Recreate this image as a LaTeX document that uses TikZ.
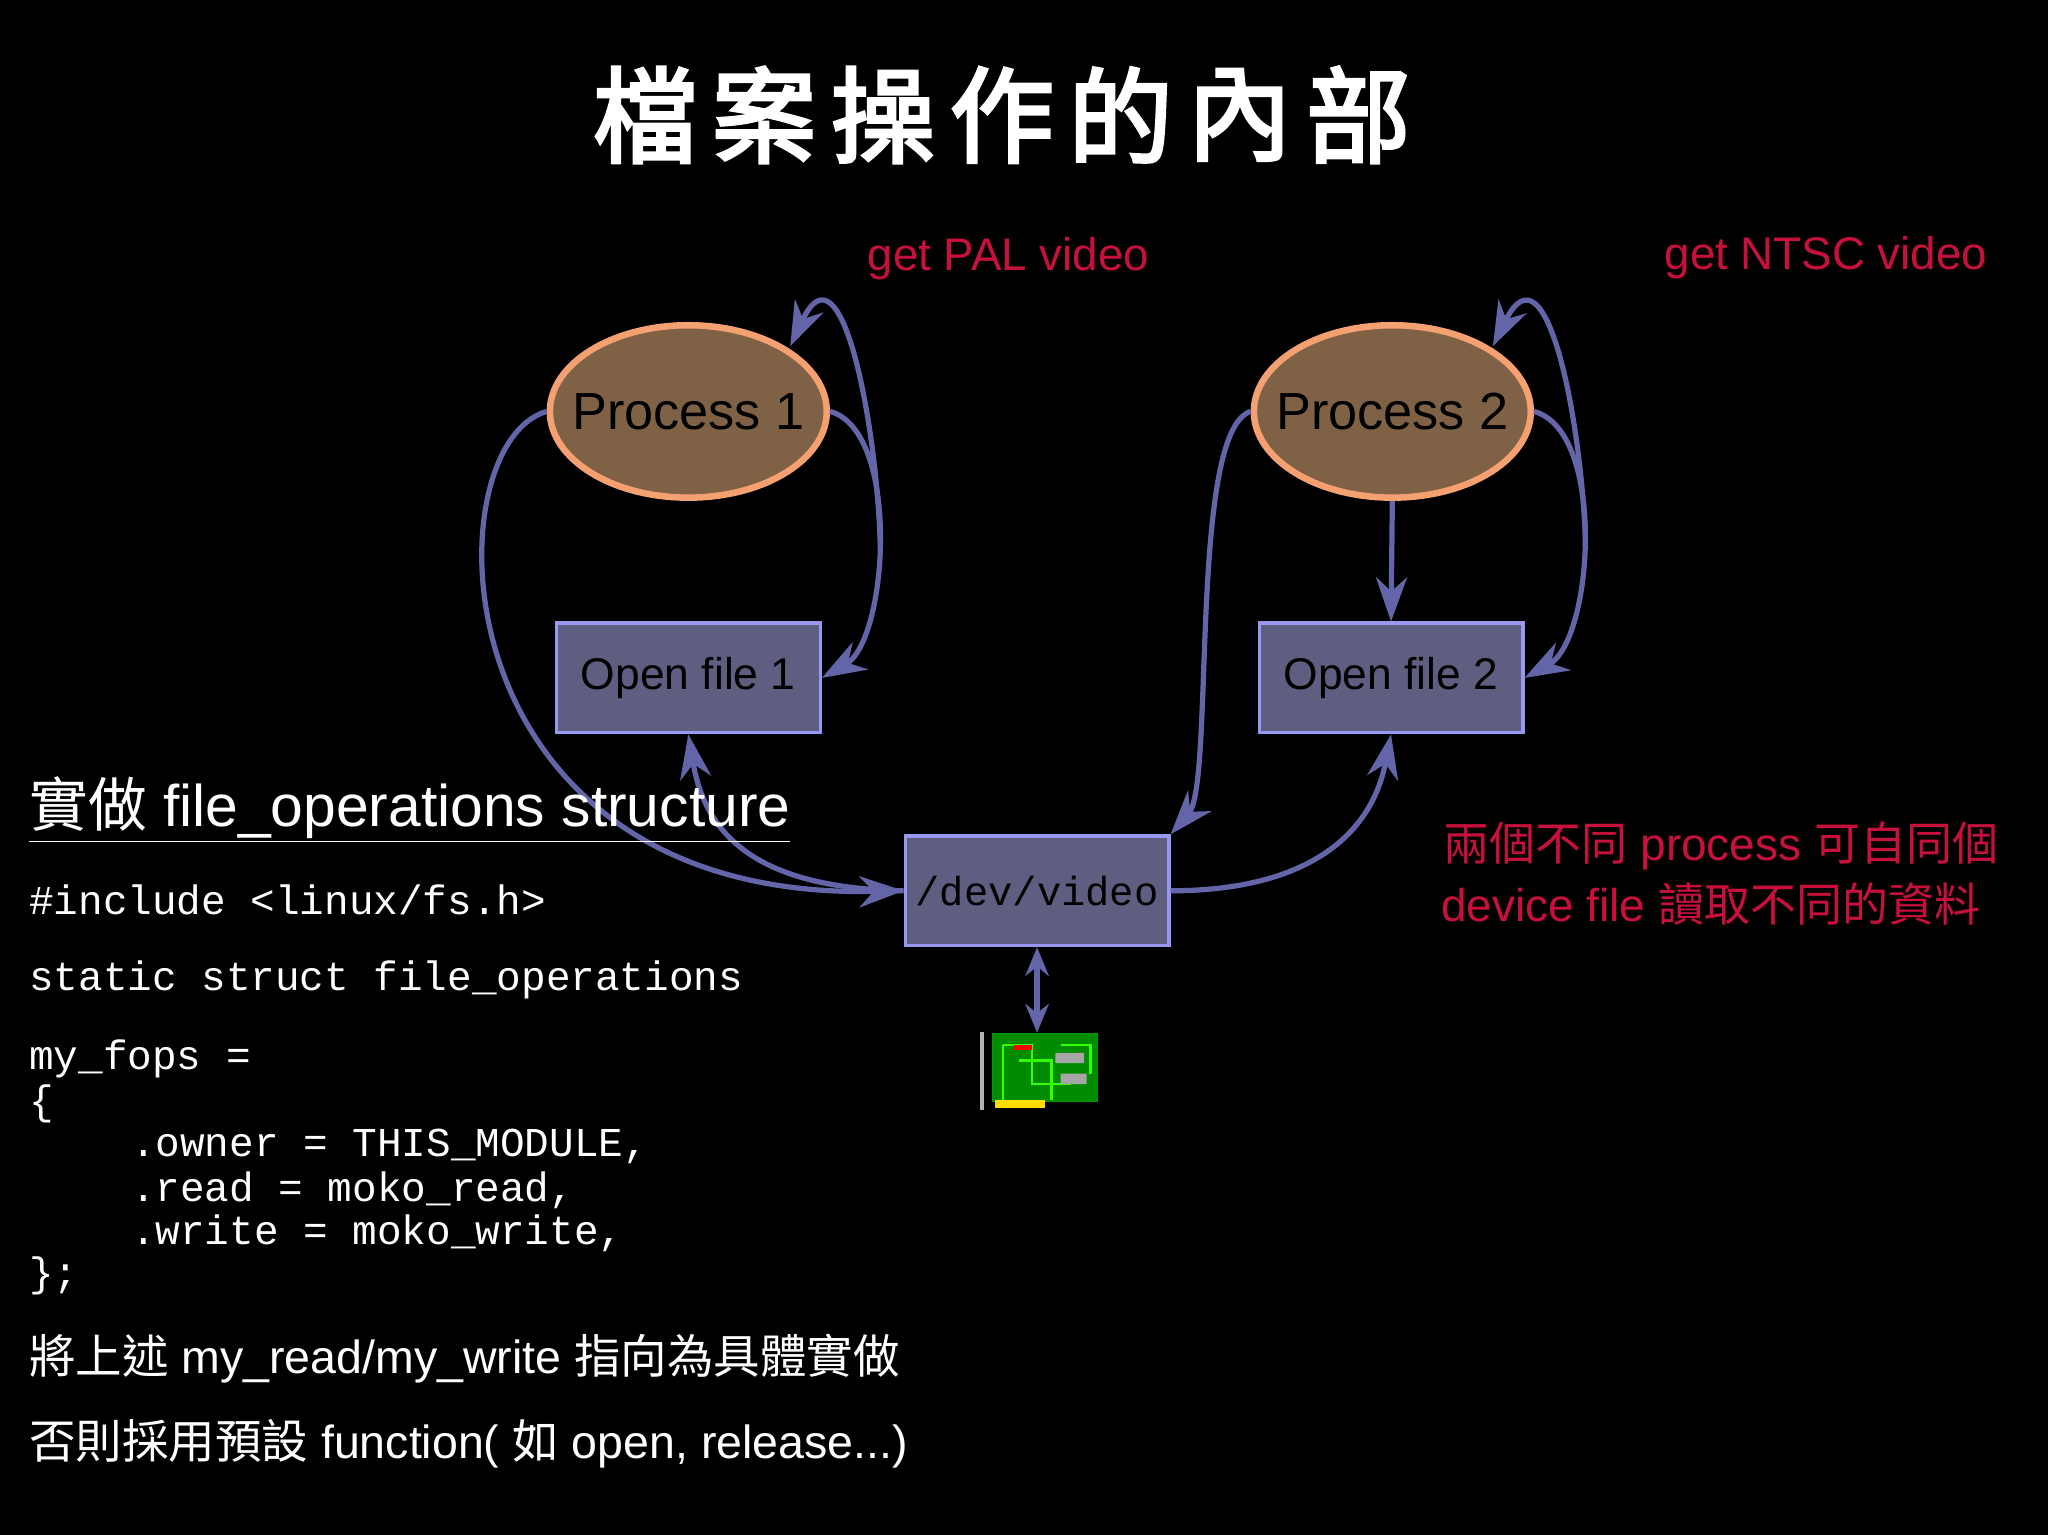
\documentclass[tikz,border=0pt]{standalone}
\usepackage{fontspec}
\setmainfont{Liberation Sans}
\setmonofont{Liberation Mono}
\newfontfamily\cjk{Noto Sans CJK TC}
\newfontfamily\cjkb{Noto Sans CJK TC}[FakeBold=3]
\usetikzlibrary{arrows.meta,shapes.geometric}
\definecolor{crim}{HTML}{C8103C}
\definecolor{arr}{HTML}{6464A8}
\definecolor{boxf}{HTML}{5E5E80}
\definecolor{boxs}{HTML}{9898F0}
\definecolor{procf}{HTML}{7F6245}
\definecolor{procs}{HTML}{F4A070}
\begin{document}
\begin{tikzpicture}[x=0.5pt,y=-0.5pt,
  proc/.style={ellipse,draw=procs,line width=2.5pt,fill=procf,minimum width=106pt,minimum height=66pt,inner xsep=-14pt,inner ysep=0pt,font=\fontsize{20}{24}\selectfont},
  file/.style={rectangle,draw=boxs,line width=1.2pt,fill=boxf,minimum width=101pt,minimum height=42pt,inner sep=0pt,font=\fontsize{17}{20}\selectfont},
  con/.style={draw=arr,line width=2pt,-{Stealth[length=17pt,width=12pt]}},
  code/.style={anchor=west,text=white,font=\ttfamily\fontsize{15.7}{18}\selectfont,inner sep=0pt}]
\useasboundingbox[fill=black] (0,0) rectangle (1568,1175);
\foreach \c [count=\i from 0] in {檔,案,操,作,的,內,部}
  \node[text=white,font=\cjkb\fontsize{40}{42}\selectfont] (t\i) at (494+\i*91,88) {\c};
\node[text=crim,font=\fontsize{17.5}{20}\selectfont] (pal) at (772,198) {get PAL video};
\node[text=crim,font=\fontsize{17.5}{20}\selectfont] (ntsc) at (1398,197) {get NTSC video};
\node[proc] (p1) at (527,315) {Process 1};
\node[proc] (p2) at (1066,315) {Process 2};
\node[file] (f1) at (527,519) {Open file 1};
\node[file] (f2) at (1065,519) {Open file 2};
\node[file,font=\ttfamily\fontsize{15.5}{18}\selectfont] (dv) at (794,682) {/dev/video};
\coordinate (l1) at (674,420);
\coordinate (l2) at (1214,420);
% chip
\begin{scope}
\node[draw=green!60!black,fill=green!55!black,minimum width=40pt,minimum height=26pt,inner sep=0pt] (chip) at (800,817) {};
\draw[green!80!yellow,line width=1pt] (768,800) -- (768,842) (768,800)--(790,800)--(790,830)--(820,830) (780,812)--(805,812)--(805,842) (812,800)--(835,800)--(835,822);
\fill[gray!70] (808,806) rectangle (830,814) (812,822) rectangle (832,830);
\fill[red] (776,800) rectangle (790,804);
\fill[yellow!80!orange] (762,842) rectangle (800,848);
\draw[gray!60,line width=1.5pt] (752,790) -- (752,850);
\end{scope}
% connectors
\draw[con] (p1.east) .. controls (690,330) and (680,490) .. (f1.east);
\draw[con] (l1) .. controls (672,330) and (645,180) .. (605,265);
\draw[con] (p1.west) .. controls (330,340) and (330,690) .. (dv.west);
\draw[con] (dv.west) .. controls (580,680) and (540,640) .. (f1.south);
\draw[con] (p2.south) -- (f2.north);
\draw[con] (p2.west) .. controls (910,330) and (930,600) .. (dv.north east);
\draw[con] (dv.east) .. controls (1000,682) and (1050,640) .. (f2.south);
\draw[con] (p2.east) .. controls (1230,330) and (1220,490) .. (f2.east);
\draw[con] (l2) .. controls (1212,330) and (1185,180) .. (1143,265);
\draw[draw=arr,line width=2pt,{Stealth[length=11pt,width=9pt]}-{Stealth[length=11pt,width=9pt]}] (dv.south) -- (chip.north -| dv.south);
% left text
\node[anchor=west,text=white,inner sep=0pt,font=\fontsize{22.5}{26}\selectfont] (hd) at (22,620) {\underline{{\cjk 實做} file\_operations structure}};
\node[code] (c1) at (22,689) {\#include <linux/fs.h>};
\node[code] (c2) at (22,750) {static struct file\_operations};
\node[code] (c3) at (22,811) {my\_fops =};
\node[code] (c4) at (22,845) {\{};
\node[code] (c5) at (100,878) {.owner = THIS\_MODULE,};
\node[code] (c6) at (100,911) {.read = moko\_read,};
\node[code] (c7) at (100,944) {.write = moko\_write,};
\node[code] (c8) at (22,977) {\};};
\node[anchor=west,text=white,inner sep=0pt,font=\fontsize{17.8}{20}\selectfont] (b1) at (22,1040) {{\cjk 將上述} my\_read/my\_write {\cjk 指向為具體實做}};
\node[anchor=west,text=white,inner sep=0pt,font=\fontsize{17.8}{20}\selectfont] (b2) at (22,1105) {{\cjk 否則採用預設} function( {\cjk 如} open, release...)};
\node[anchor=west,text=crim,inner sep=0pt,font=\fontsize{17.6}{20}\selectfont] (r1) at (1105,648) {{\cjk 兩個不同} process {\cjk 可自同個}};
\node[anchor=west,text=crim,inner sep=0pt,font=\fontsize{17.6}{20}\selectfont] (r2) at (1103,692) {device file {\cjk 讀取不同的資料}};
\end{tikzpicture}
\end{document}
